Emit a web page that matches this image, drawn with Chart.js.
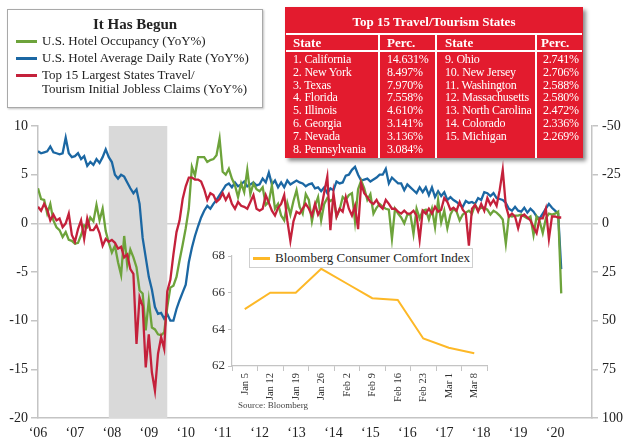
<!DOCTYPE html>
<html lang="en">
<head>
<meta charset="UTF-8">
<title>It Has Begun</title>
<script src="https://cdn.jsdelivr.net/npm/chart.js@4"></script>
<style>
  body { margin: 0; background: #fff; font-family: "Liberation Serif", serif; color: #222; }
  #wrap { position: relative; width: 625px; height: 439px; overflow: hidden; }
  #main { position: absolute; left: 0; top: 0; }
  #inset { position: absolute; left: 200px; top: 245px; }

  /* legend top left */
  #legendBox {
    position: absolute; left: 7px; top: 9px; width: 256px; height: 99px;
    box-sizing: border-box; border: 1.5px solid #a9a9a9; background: #fff;
    box-shadow: 1px 1px 2px rgba(0,0,0,0.25);
  }
  #legendBox .ttl { position: absolute; left: 0; right: 0; top: 5px; text-align: center; font-weight: bold; font-size: 15px; line-height: 18px; }
  #legendBox .item { position: absolute; left: 34px; font-size: 13px; line-height: 14px; white-space: nowrap; }
  #legendBox .sw { position: absolute; left: -26px; top: 6px; width: 21px; height: 3px; }

  /* table top right */
  #tbl {
    position: absolute; left: 285px; top: 7px; width: 298px; height: 151px;
    background: #e31b2e; color: #fff; box-shadow: 3px 3px 4px rgba(0,0,0,0.45);
  }
  #tbl .t { position: absolute; white-space: nowrap; }
  #tbl .hl { position: absolute; left: 1px; right: 1px; height: 1.5px; background: #fff; }
  #tbl .vl { position: absolute; top: 26px; bottom: 0; width: 1.5px; background: #fff; }

  #insetLegend {
    position: absolute; left: 249px; top: 248px; width: 224px; height: 20px;
    box-sizing: border-box; border: 1px solid #cfcfcf; background: #fff;
    font-size: 13px; line-height: 18px; white-space: nowrap;
  }
  #insetLegend .sw { position: absolute; left: 3px; top: 8px; width: 17px; height: 2.5px; background: #fdb827; }
  #insetLegend .tx { position: absolute; left: 25px; top: 0; }
  #source { position: absolute; left: 238px; top: 400px; font-size: 9px; color: #444; }
</style>
</head>
<body>
<div id="wrap">
  <canvas id="main" width="625" height="439"></canvas>
  <canvas id="inset" width="295" height="160"></canvas>

  <div id="legendBox">
    <div class="ttl">It Has Begun</div>
    <div class="item" style="top:24px"><span class="sw" style="background:#6da33b"></span>U.S. Hotel Occupancy (YoY%)</div>
    <div class="item" style="top:41px"><span class="sw" style="background:#1b67a3"></span>U.S. Hotel Average Daily Rate (YoY%)</div>
    <div class="item" style="top:58px"><span class="sw" style="background:#c4213b"></span>Top 15 Largest States Travel/</div>
    <div class="item" style="top:72px">Tourism Initial Jobless Claims (YoY%)</div>
  </div>

  <div id="tbl"></div>

  <div id="insetLegend"><span class="sw"></span><span class="tx">Bloomberg Consumer Comfort Index</span></div>
  <div id="source">Source: Bloomberg</div>
</div>

<script>
  // ---- data (monthly, Jan 2006 - Mar 2020) ----
  const startYear = 2006;

  // U.S. Hotel Occupancy YoY% (left axis)
  const occupancy = [
    3.6, 2.5, 2.4, 1.0, 2.0, 0.3, -0.4, -0.7, -1.4, -0.9, -1.7, -1.8,
    -2.1, -2.0, -1.2, -0.2, -0.4, 0.6, 0.2, 1.9, 0.3, 1.5, -0.8, -2.0,
    -3.0, -2.3, -4.0, -5.3, -1.3, -4.3, -2.7, -3.5, -4.5, -6.9, -7.2, -11.0,
    -7.9, -10.7, -10.9, -11.4, -11.5, -11.2, -8.6, -6.6, -6.4, -5.5, -3.8, -2.2,
    -0.5, 1.5, 5.8, 4.9, 6.8, 6.8, 6.8, 6.3, 6.5, 6.6, 7.0, 8.7,
    5.3, 5.0, 5.6, 4.6, 3.9, 2.7, 4.1, 3.2, 5.5, 3.0, 4.1, 3.5,
    3.3, 3.7, 1.9, 2.2, 3.9, 1.5, 2.0, 0.8, 0.3, 2.1, 0.9, 2.3,
    3.4, 1.7, 1.0, 3.0, 2.4, 0.2, 1.8, 2.7, 0.3, 2.0, 2.6, 2.3,
    2.5, 0.7, 1.4, 2.7, 2.4, 2.9, 3.1, 0.2, 3.5, 4.4, 3.6, 2.4,
    3.0, 1.0, 1.6, 2.0, 1.7, 1.5, 1.4, -1.6, 1.5, 1.0, 0.6, 0.0,
    0.9, 0.9, -1.1, 1.5, 0.5, 1.3, 1.4, 0.4, 1.5, -0.4, 2.4, 0.1,
    1.3, -0.5, 0.9, 1.5, 1.2, 0.3, 0.9, 1.1, 1.3, 1.0, 1.9, 1.4,
    1.6, 1.6, 1.4, 0.9, 1.3, 1.1, 0.8, 0.4, -2.1, 0.8, 0.7, 0.8,
    0.8, 0.9, 0.7, 0.5, 0.7, -1.2, 0.7, 0.2, -1.0, 0.5, 1.0, 0.9,
    1.0, 1.2, -7.2
  ];

  // U.S. Hotel Average Daily Rate YoY% (left axis)
  const dailyRate = [
    7.4, 7.2, 7.3, 7.4, 7.9, 7.3, 7.2, 7.1, 7.2, 8.8, 7.2, 6.8,
    6.9, 7.2, 6.6, 6.9, 5.9, 6.3, 6.0, 6.6, 6.2, 6.8, 7.6, 6.8,
    6.3, 5.0, 4.6, 5.0, 4.8, 4.2, 3.6, 3.1, 3.5, 2.0, -1.5, -3.5,
    -5.5, -6.8, -8.6, -9.3, -9.2, -9.8, -9.3, -10.0, -10.0, -8.8, -7.9, -7.1,
    -6.3, -4.0, -2.5, -1.3, -0.3, 0.6, 1.3, 1.8, 1.5, 2.0, 2.4, 2.9,
    3.4, 3.9, 4.1, 3.7, 4.2, 3.8, 4.0, 4.3, 3.8, 4.0, 4.2, 3.9,
    4.0, 4.6, 4.2, 5.2, 4.0, 4.4, 3.7, 4.2, 3.7, 4.4, 4.0, 4.2,
    4.4, 4.2, 4.1, 3.8, 4.0, 4.1, 3.6, 3.7, 3.3, 3.7, 3.1, 3.6,
    3.4, 4.3, 4.1, 4.2, 4.9, 5.0, 5.5, 5.8, 5.0, 4.4, 4.5, 4.6,
    4.3, 4.5, 4.7, 5.0, 5.0, 5.6, 4.1, 4.7, 4.4, 4.1, 4.1, 3.4,
    4.0, 3.7, 3.4, 3.1, 3.7, 3.2, 3.7, 2.9, 3.7, 2.7, 3.3, 2.8,
    3.2, 2.4, 2.7, 2.4, 2.2, 1.9, 1.7, 2.3, 2.1, 2.2, 2.0, 2.6,
    2.4, 3.2, 3.1, 2.8, 3.1, 2.6, 2.5, 2.4, 2.1, 1.5, 1.3, 1.7,
    1.3, 1.2, 1.6, 1.1, 1.5, 1.2, 0.7, 0.5, 1.0, 1.5, 2.0, 1.6,
    1.3, 1.0, -4.7
  ];

  // Top 15 states travel/tourism initial jobless claims YoY% (right axis, inverted)
  const joblessClaims = [
    -8.5, -6.5, -10, -7, -1.5, -4.5, -1.5, -2.5, 2, 0, -5, 6,
    9.5, 3, -1.5, 8, -2.5, 3.5, 3.5, 1, 5, 11.5, 8, 9.5,
    8.5, 10, 13, 12, 17.5, 16, 23.5, 26, 62, 38, 42.5, 74,
    57, 76.5, 86, 67, 58.5, 64.5, 35, 29, 16, 4.5, -1.5, -12.5,
    -19, -23.5, -23.5, -22.5, -22.5, -21.5, -17.5, -12, -15.5, -14.5, -11, -12.5,
    -15.5, -12, -15, -10, -7.5, -11, -9, -8.5, -7.5, -11, -14.5, -7.5,
    -6.5, -7.5, -14.5, -10.5, -6.5, -4, -8, -10, -14.5, -1.5, 9, -1,
    -6, -5, -7.5, -10, -7.5, -4, -10, -4.5, -7.5, -16, -24, 3.5,
    -15.5, -3.5, -7.5, -6, -13.5, -7.5, -4, -9, 3, -20.5, -15.5, -13.5,
    -11, -10, -12, -9, -7.5, -12, -10, -7.5, -7.5, -6, -5, -6.5,
    -5, -5, -6.5, -4, 8.5, -6.5, -5, -7.5, -5, -8.5, -6, -7,
    -13, -11, -7, -8, -6.5, -11, -7, -5, 11.5, -7.5, -9.5, -6,
    -10, -6.5, -13, -9.5, -12, -9, -17, -27.5, -9, -3.5, -5, -3.5,
    2.5, -3.5, -4.5, -3, -1.5, 2, 5, -2.5, -2.5, -7.5, 8, -3.5,
    -3.5, -3, -3
  ];

  const recession = [2007.917, 2009.5];   // Dec 2007 - Jun 2009

  // inset: Bloomberg Consumer Comfort Index, weekly 2020
  const weeks = ['Jan 5', 'Jan 12', 'Jan 19', 'Jan 26', 'Feb 2', 'Feb 9', 'Feb 16', 'Feb 23', 'Mar 1', 'Mar 8'];
  const comfort = [65.1, 66.0, 66.0, 67.3, 66.5, 65.7, 65.6, 63.5, 63.0, 62.7];

  // table
  const statesLeft = ['1.  California', '2.  New York', '3.  Texas', '4.  Florida', '5.  Illinois', '6.  Georgia', '7.  Nevada', '8.  Pennsylvania'];
  const percLeft = ['14.631%', '8.497%', '7.970%', '7.558%', '4.610%', '3.141%', '3.136%', '3.084%'];
  const statesRight = ['9.  Ohio', '10. New Jersey', '11. Washington', '12. Massachusetts', '13. North Carolina', '14. Colorado', '15. Michigan'];
  const percRight = ['2.741%', '2.706%', '2.588%', '2.580%', '2.472%', '2.336%', '2.269%'];

  // ---- table build ----
  const tbl = document.getElementById('tbl');
  function addText(txt, left, top, size, bold) {
    const d = document.createElement('div');
    d.className = 't';
    d.textContent = txt;
    d.style.left = left + 'px';
    d.style.top = top + 'px';
    d.style.fontSize = size + 'px';
    d.style.lineHeight = '14px';
    if (bold) d.style.fontWeight = 'bold';
    else d.style.letterSpacing = '-0.2px';
    tbl.appendChild(d);
    return d;
  }
  const title = addText('Top 15 Travel/Tourism States', 0, 8, 13, true);
  title.style.left = '0'; title.style.right = '0'; title.style.textAlign = 'center';
  [26, 43].forEach(t => { const l = document.createElement('div'); l.className = 'hl'; l.style.top = t + 'px'; tbl.appendChild(l); });
  [93, 150, 250].forEach(x => { const l = document.createElement('div'); l.className = 'vl'; l.style.left = x + 'px'; tbl.appendChild(l); });
  addText('State', 8, 29, 13, true);
  addText('Perc.', 102, 29, 13, true);
  addText('State', 160, 29, 13, true);
  addText('Perc.', 256, 29, 13, true);
  statesLeft.forEach((s, i) => { addText(s, 8, 45 + i * 12.8, 12); addText(percLeft[i], 102, 45 + i * 12.8, 12); });
  statesRight.forEach((s, i) => { addText(s, 160, 45 + i * 12.8, 12); addText(percRight[i], 258, 45 + i * 12.8, 12); });

  // ---- charts ----
  const FONT = 'Liberation Serif';
  const AXIS = '#c4c4c4';
  const pts = arr => arr.map((v, i) => ({ x: startYear + i / 12, y: v }));

  const recessionShade = {
    id: 'recessionShade',
    beforeDatasetsDraw(chart) {
      const { ctx, chartArea, scales } = chart;
      const x0 = scales.x.getPixelForValue(recession[0]);
      const x1 = scales.x.getPixelForValue(recession[1]);
      ctx.save();
      ctx.fillStyle = '#d9d9d9';
      ctx.fillRect(x0, chartArea.top, x1 - x0, chartArea.bottom - chartArea.top);
      ctx.restore();
    }
  };

  new Chart(document.getElementById('main'), {
    type: 'line',
    data: {
      datasets: [
        { label: 'Jobless Claims', data: pts(joblessClaims), yAxisID: 'y1', borderColor: '#c4213b', borderWidth: 2.3, pointRadius: 0, tension: 0 },
        { label: 'Occupancy', data: pts(occupancy), yAxisID: 'y', borderColor: '#6da33b', borderWidth: 2.3, pointRadius: 0, tension: 0 },
        { label: 'ADR', data: pts(dailyRate), yAxisID: 'y', borderColor: '#1b67a3', borderWidth: 2.3, pointRadius: 0, tension: 0 }
      ]
    },
    options: {
      responsive: false,
      animation: false,
      layout: { padding: { top: 126 } },
      plugins: { legend: { display: false }, tooltip: { enabled: false } },
      scales: {
        x: {
          type: 'linear', min: 2006, max: 2021,
          ticks: {
            stepSize: 1, autoSkip: false, maxRotation: 0, padding: 7, color: '#222',
            font: { family: FONT, size: 14 },
            callback: v => v < 2021 ? '\u2018' + String(v).slice(2) : ''
          },
          grid: { display: false, drawTicks: false },
          border: { color: AXIS, width: 1.5 },
          afterFit: s => { s.height = 21; }
        },
        y: {
          position: 'left', min: -20, max: 10,
          ticks: { stepSize: 5, padding: 3, color: '#222', font: { family: FONT, size: 14 } },
          grid: {
            color: c => c.tick.value === 0 ? '#d2d2d2' : 'rgba(0,0,0,0)',
            tickColor: AXIS, tickLength: 7, lineWidth: 1.5
          },
          border: { color: AXIS, width: 1.5 },
          afterFit: s => { s.width = 38; }
        },
        y1: {
          position: 'right', reverse: true, min: -50, max: 100,
          ticks: { stepSize: 25, padding: 4, color: '#222', font: { family: FONT, size: 14 } },
          grid: { drawOnChartArea: false, color: AXIS, tickLength: 6, lineWidth: 1.5 },
          border: { color: AXIS, width: 1.5 },
          afterFit: s => { s.width = 33; }
        }
      }
    },
    plugins: [recessionShade]
  });

  new Chart(document.getElementById('inset'), {
    type: 'line',
    data: {
      labels: weeks,
      datasets: [{ label: 'Bloomberg Consumer Comfort Index', data: comfort, borderColor: '#fdb827', borderWidth: 2, pointRadius: 0, tension: 0 }]
    },
    options: {
      responsive: false,
      animation: false,
      layout: { padding: { top: 11, right: 8 } },
      plugins: { legend: { display: false }, tooltip: { enabled: false } },
      scales: {
        x: {
          offset: true,
          ticks: { autoSkip: false, minRotation: 90, maxRotation: 90, padding: 2, color: '#333', font: { family: FONT, size: 10.5 } },
          grid: { offset: true, drawOnChartArea: false, color: AXIS, tickLength: 5 },
          border: { color: AXIS, width: 1.2 },
          afterFit: s => { s.height = 39; }
        },
        y: {
          min: 62, max: 68,
          ticks: { stepSize: 1, padding: 3, color: '#333', font: { family: FONT, size: 13 } },
          grid: { drawOnChartArea: false, color: AXIS, tickLength: 4 },
          border: { color: AXIS, width: 1.2 },
          afterFit: s => { s.width = 32; }
        }
      }
    }
  });
</script>
</body>
</html>
